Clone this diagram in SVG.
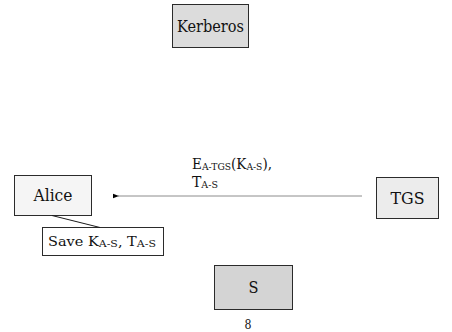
<svg xmlns="http://www.w3.org/2000/svg" width="452" height="332" viewBox="0 0 452 332">
  <style>
    .box { stroke: #2b2b2b; stroke-width: 1; }
    .lbl { fill: #111; font-family: "DejaVu Serif", serif; }
    .big { font-size: 16.5px; }
    .mid { font-size: 14px; }
    .sub { font-size: 9.5px; }
    .sm  { font-size: 12.5px; }
    .ssub { font-size: 9.5px; }
    .link { stroke: #8c8c8c; stroke-width: 1; fill: none; }
    .tie { stroke: #1a1a1a; stroke-width: 1; fill: none; }
  </style>
  <defs>
    <marker id="head" viewBox="0 0 6 6" refX="1" refY="3" markerWidth="6" markerHeight="6" markerUnits="userSpaceOnUse" orient="auto">
      <path d="M6,0.8 L0,3 L6,5.2 Z" fill="#000"/>
    </marker>
  </defs>

  <g id="kerberos">
    <rect class="box" x="172.5" y="4.5" width="76" height="43" fill="#dcdcdc"/>
    <text class="lbl big" x="210.5" y="31.5" text-anchor="middle" textLength="67" lengthAdjust="spacingAndGlyphs">Kerberos</text>
  </g>

  <g id="alice">
    <rect class="box" x="14.5" y="175.5" width="77" height="40" fill="#f5f5f5"/>
    <text class="lbl big" x="53" y="201" text-anchor="middle" textLength="39" lengthAdjust="spacingAndGlyphs">Alice</text>
  </g>

  <g id="save">
    <rect class="box" x="42.5" y="227.5" width="121" height="28" fill="#ffffff"/>
    <text class="lbl sm" x="48" y="246" textLength="108" lengthAdjust="spacingAndGlyphs">Save K<tspan class="ssub" dy="1">A-S</tspan><tspan dy="-1">, T</tspan><tspan class="ssub" dy="1">A-S</tspan></text>
  </g>

  <g id="tgs">
    <rect class="box" x="376.5" y="177.5" width="62" height="41" fill="#ececec"/>
    <text class="lbl big" x="407.5" y="203.5" text-anchor="middle" textLength="34" lengthAdjust="spacingAndGlyphs">TGS</text>
  </g>

  <g id="s">
    <rect class="box" x="214.5" y="265.5" width="78" height="44" fill="#d4d4d4"/>
    <text class="lbl big" x="253.5" y="293" text-anchor="middle" textLength="10" lengthAdjust="spacingAndGlyphs">S</text>
  </g>

  <g id="connectors">
    <line class="link" x1="362" y1="196" x2="118" y2="196" marker-end="url(#head)"/>
    <line class="tie" x1="52" y1="215.5" x2="100" y2="227.5"/>
  </g>

  <g id="message">
    <text class="lbl mid" x="192" y="169" textLength="80" lengthAdjust="spacingAndGlyphs">E<tspan class="sub" dy="1">A-TGS</tspan><tspan dy="-1">(K</tspan><tspan class="sub" dy="1">A-S</tspan><tspan dy="-1">),</tspan></text>
    <text class="lbl mid" x="192" y="187" textLength="26" lengthAdjust="spacingAndGlyphs">T<tspan class="sub" dy="1">A-S</tspan></text>
  </g>

  <text class="lbl sm" x="248" y="329" text-anchor="middle" textLength="7" lengthAdjust="spacingAndGlyphs">8</text>
</svg>
